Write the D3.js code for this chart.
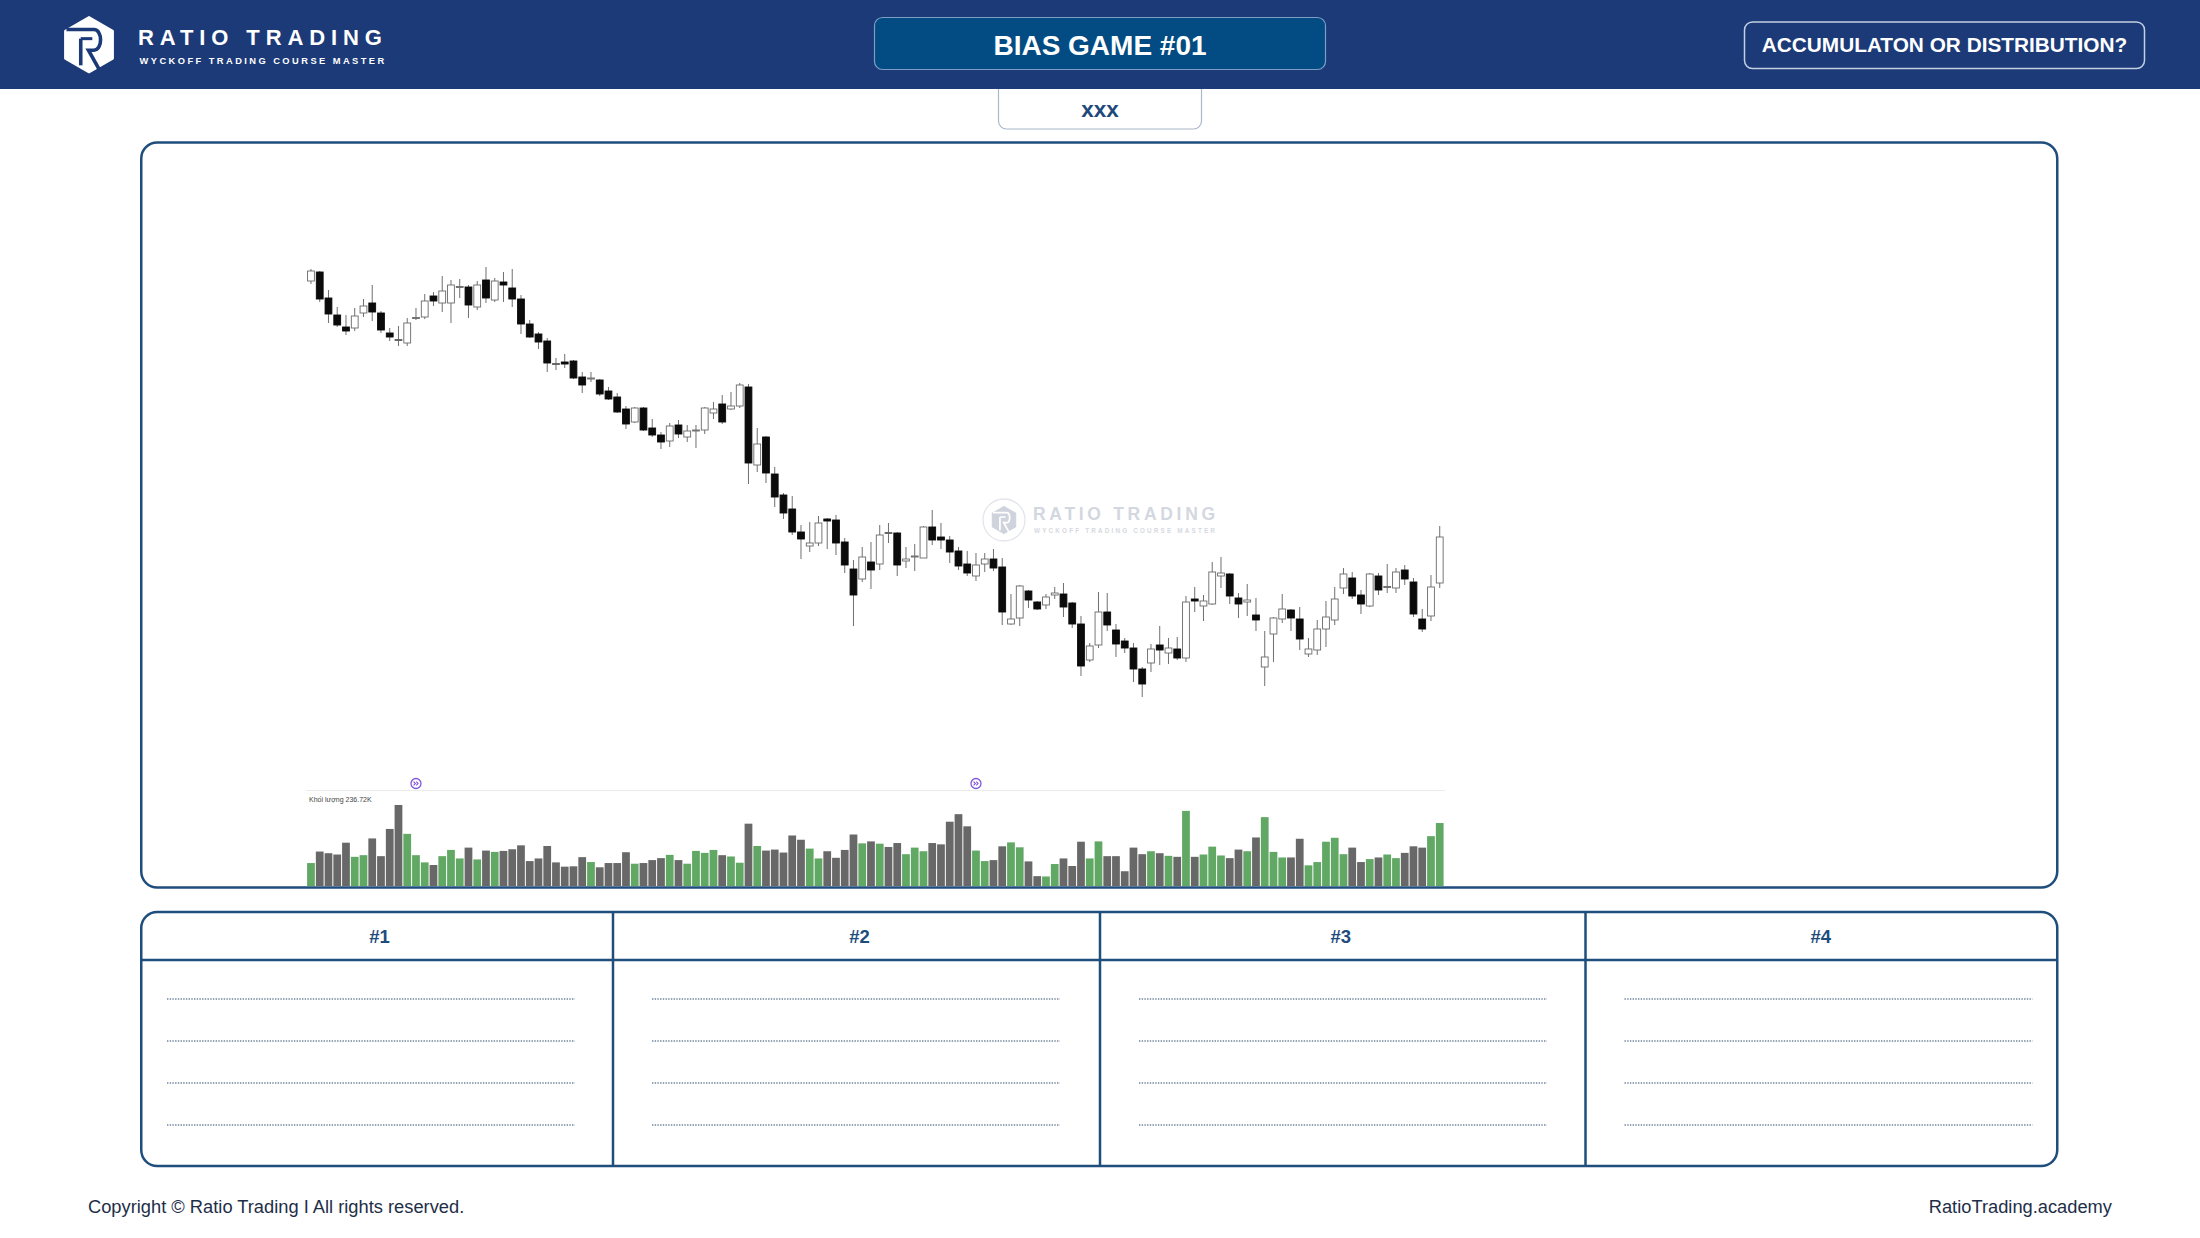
<!DOCTYPE html>
<html>
<head>
<meta charset="utf-8">
<script src="https://cdn.jsdelivr.net/npm/d3@7/dist/d3.min.js"></script>
<style>
body { margin: 0; background: #fff; }
svg text { font-family: Helvetica, Arial, "Liberation Sans", sans-serif; }
</style>
</head>
<body>
<div id="chart"></div>
<script>
/* PRICE DATA, one value per candle */
var openPrices = [51.9,52.8,50.2,48.5,47.3,47.2,48.7,49.7,48.7,46.7,
46.05,45.7,48.2,48.3,50.4,49.7,49.7,51.3,51.3,49.3,
52.0,50.0,51.8,51.2,50.1,47.6,46.6,45.9,43.65,43.8,
43.9,42.3,42.15,42.0,40.9,40.3,39.1,37.8,39.2,37.2,
36.5,35.9,37.5,36.3,36.95,37.0,38.7,39.6,39.1,39.4,
41.3,33.5,36.3,32.6,30.5,29.1,26.8,25.4,25.7,28.1,
28.0,25.8,23.1,22.1,23.8,23.6,26.75,26.7,23.9,24.3,
24.2,27.3,26.3,26.0,24.9,23.6,22.4,23.6,24.1,23.3,
17.6,18.2,20.9,19.8,19.5,20.5,20.6,19.7,17.6,14.0,
15.5,18.8,17.0,15.9,15.2,13.1,13.7,15.5,14.7,15.1,
14.2,20.1,19.4,19.6,22.4,22.6,20.2,19.8,18.5,13.3,
16.6,18.1,19.0,18.1,14.6,15.0,17.1,18.0,21.2,22.2,
20.5,19.4,22.4,21.35,21.2,23.0,21.8,18.1,18.4,21.7];

var highPrices = [53.1,52.9,51.0,49.3,48.5,49.2,50.1,51.5,48.9,47.2,
47.4,48.2,49.2,50.6,50.8,52.4,52.0,52.1,51.5,51.9,
53.3,52.2,52.8,53.1,50.5,48.0,46.8,46.2,44.2,44.6,
44.0,42.8,42.8,42.1,41.3,40.7,39.4,39.3,39.3,38.1,
36.8,37.7,38.0,37.5,37.5,39.3,39.8,40.5,40.8,41.7,
41.6,37.2,36.4,33.3,30.7,30.4,27.5,27.8,28.4,28.2,
28.5,26.2,24.0,25.3,25.8,27.5,27.7,26.8,25.3,25.6,
27.4,29.0,27.7,26.4,25.3,24.9,24.7,24.7,25.1,24.2,
20.6,21.5,21.0,19.9,20.6,21.3,21.7,19.8,18.4,15.7,
20.8,20.7,17.6,16.2,15.7,13.3,15.6,17.4,16.2,16.3,
20.4,21.3,20.5,23.8,24.3,22.7,20.7,21.6,20.2,16.9,
18.3,20.6,19.1,19.3,16.2,18.0,19.9,21.3,23.2,22.8,
21.0,22.7,22.7,23.6,23.2,23.5,22.2,19.1,22.5,27.4];

var lowPrices = [51.6,49.8,47.7,47.3,46.5,46.9,48.3,47.9,46.7,45.9,
45.4,45.4,48.0,48.1,49.4,48.8,47.7,50.2,48.2,49.0,
49.7,49.8,49.8,49.3,46.6,46.2,45.1,42.8,43.0,43.2,
42.1,40.7,41.8,40.4,40.0,38.7,37.1,37.7,36.9,36.3,
35.1,35.3,36.2,35.8,35.2,36.6,38.1,37.6,39.0,39.2,
31.6,32.8,31.7,29.3,28.1,26.5,24.1,24.8,25.4,25.1,
24.5,22.7,17.4,21.8,21.1,23.0,25.7,22.4,23.2,22.9,
24.2,25.5,25.1,23.7,23.0,22.4,21.9,22.8,22.9,17.5,
17.5,17.4,19.2,19.0,19.1,20.1,18.3,17.2,12.4,13.8,
15.2,16.9,14.3,14.7,11.8,10.3,12.8,13.5,13.6,14.0,
13.8,18.8,17.9,19.5,21.2,19.6,18.2,18.4,16.9,11.4,
13.8,17.7,16.9,15.0,14.3,14.5,15.3,17.5,20.6,20.1,
18.6,19.3,20.5,20.7,20.7,21.5,18.3,16.8,17.9,21.2];

var closePrices = [52.9,50.1,48.6,47.5,46.9,48.4,49.4,48.8,47.0,46.3,
46.0,47.7,48.25,49.9,49.9,50.9,51.5,51.35,49.5,51.5,
50.2,51.9,51.5,50.1,47.6,46.3,45.8,43.7,43.6,43.6,
42.2,41.5,42.2,40.6,40.1,38.8,37.6,39.2,37.0,36.5,
35.8,37.4,36.6,36.9,37.0,39.2,39.1,37.8,39.4,41.5,
33.7,35.6,32.7,30.3,28.7,26.8,26.1,25.7,27.7,27.9,
25.7,23.5,20.5,24.3,23.0,26.5,26.7,23.5,24.1,24.4,
27.3,26.0,26.0,24.8,23.4,22.7,23.5,24.1,23.2,18.8,
18.1,21.4,20.0,19.1,20.3,20.7,19.3,17.6,13.4,15.4,
18.8,17.5,15.6,15.2,13.1,11.6,15.1,15.0,15.2,14.2,
19.8,19.9,19.9,22.8,22.7,20.4,19.6,20.0,18.0,14.3,
18.2,19.1,18.2,16.1,15.1,17.1,18.3,20.1,22.6,20.4,
19.6,22.6,21.0,21.35,22.8,22.1,18.6,17.1,21.3,26.3];

/* VOLUME in thousands */
var volumes = [86.3,129.5,123.3,118.4,162.8,109.7,115.9,178.8,112.2,214.5,
304.6,196.0,115.9,88.8,78.9,112.2,135.6,103.6,144.3,99.9,
133.2,128.2,131.9,138.1,152.9,93.7,103.6,150.4,88.8,72.7,
74.0,108.5,90.0,70.3,86.3,86.3,127.0,83.8,86.3,97.4,
104.8,117.1,97.4,83.8,131.9,124.5,135.6,115.9,111.0,87.5,
234.3,150.4,133.2,136.9,125.8,189.9,173.9,140.6,103.6,130.7,
106.0,135.6,193.6,160.3,167.7,159.1,146.7,161.5,119.6,144.3,
130.7,161.5,156.6,241.7,270.0,224.4,133.2,93.7,97.4,149.2,
164.0,145.5,92.5,37.0,35.8,82.6,103.6,75.2,166.5,103.6,
167.7,112.2,112.2,55.5,144.3,119.6,130.7,123.3,113.4,109.7,
282.4,109.7,118.4,148.0,114.7,104.8,136.9,130.7,182.5,258.9,
128.2,107.3,107.3,177.6,77.7,90.0,166.5,181.3,119.6,144.3,
90.0,101.1,107.3,118.4,104.8,124.5,149.2,144.3,187.4,236.72];

var lastVolumeLabel = "236.72K";
var eventMarkers = [12, 76];          // candle index of the small event icons
var columnHeaders = ["#1", "#2", "#3", "#4"];
var answerRows = [1, 2, 3, 4];        // dotted answer lines per column

var NAVY = "#1b3a77";
var BORDER = "#1f4e7d";

/* SVG CANVAS */
var width = 2200, height = 1238;
var svg = d3.select("#chart")
    .append("svg")
    .attr("width", width)
    .attr("height", height);

svg.append("rect")
    .attr("width", width).attr("height", height)
    .attr("fill", "#fff");

/* LOGO: hexagon with an R cut into it */
function drawLogo(g, cx, cy, r, fill, gap) {
    var pts = d3.range(6).map(function(k) {
        var a = -Math.PI / 2 + k * Math.PI / 3;
        return [cx + r * Math.cos(a), cy + r * Math.sin(a)];
    });
    g.append("path")
        .attr("d", "M" + pts.join("L") + "Z")
        .attr("fill", fill)
        .attr("stroke", fill)
        .attr("stroke-width", r * 0.08)
        .attr("stroke-linejoin", "round");
    var p = function(x, y) { return (cx + x * r) + "," + (cy + y * r); };
    g.append("path")
        .attr("d", "M" + p(-0.82, -0.55) + "L" + p(0.18, -0.55) +
            "C" + p(0.5, -0.55) + " " + p(0.5, 0.2) + " " + p(0.18, 0.2) +
            "L" + p(-0.02, 0.2) + "L" + p(0.4, 0.95))
        .attr("fill", "none")
        .attr("stroke", gap)
        .attr("stroke-width", r * 0.13);
    g.append("path")
        .attr("d", "M" + p(-0.3, -0.22) + "L" + p(-0.3, 0.75))
        .attr("stroke", gap)
        .attr("stroke-width", r * 0.13);
    g.append("path")
        .attr("d", "M" + p(-0.3, -0.22) + "L" + p(0.12, -0.22))
        .attr("stroke", gap)
        .attr("stroke-width", r * 0.11);
}

/* SMALL TAB UNDER THE TITLE */
svg.append("rect")
    .attr("x", 998.5).attr("y", 60)
    .attr("width", 203).attr("height", 69)
    .attr("rx", 8)
    .attr("fill", "#fff")
    .attr("stroke", "#a9b7c9")
    .attr("stroke-width", 1.2);

svg.append("text")
    .attr("x", 1100).attr("y", 116.5)
    .attr("text-anchor", "middle")
    .attr("font-size", 22.5).attr("font-weight", "bold")
    .attr("fill", "#1d4a7b")
    .text("xxx");

/* HEADER BAR */
svg.append("rect")
    .attr("x", 0).attr("y", 0)
    .attr("width", width).attr("height", 89)
    .attr("fill", NAVY);

var logo = svg.append("g");
drawLogo(logo, 89, 44.7, 27.5, "#fff", NAVY);

svg.append("text")
    .attr("x", 138).attr("y", 45)
    .attr("font-size", 22).attr("font-weight", "bold")
    .style("letter-spacing", "5.9px")
    .attr("fill", "#fff")
    .text("RATIO TRADING");

svg.append("text")
    .attr("x", 139.5).attr("y", 64)
    .attr("font-size", 9.3).attr("font-weight", "bold")
    .style("letter-spacing", "2.45px")
    .attr("fill", "#fff")
    .text("WYCKOFF TRADING COURSE MASTER");

svg.append("rect")
    .attr("x", 874.5).attr("y", 17.5)
    .attr("width", 451).attr("height", 52)
    .attr("rx", 8)
    .attr("fill", "#034b83")
    .attr("stroke", "#7d9dc7")
    .attr("stroke-width", 1.2);

svg.append("text")
    .attr("x", 1100).attr("y", 55)
    .attr("text-anchor", "middle")
    .attr("font-size", 28).attr("font-weight", "bold")
    .attr("fill", "#fff")
    .text("BIAS GAME #01");

svg.append("rect")
    .attr("x", 1744.5).attr("y", 22)
    .attr("width", 400).attr("height", 46.5)
    .attr("rx", 8)
    .attr("fill", "none")
    .attr("stroke", "#c3cfe2")
    .attr("stroke-width", 1.5);

svg.append("text")
    .attr("x", 1944.5).attr("y", 52)
    .attr("text-anchor", "middle")
    .attr("font-size", 20.8).attr("font-weight", "bold")
    .attr("fill", "#fff")
    .text("ACCUMULATON OR DISTRIBUTION?");

/* CHART FRAME */
svg.append("rect")
    .attr("x", 141.25).attr("y", 142.5)
    .attr("width", 1916).attr("height", 745)
    .attr("rx", 16)
    .attr("fill", "#fff")
    .attr("stroke", BORDER)
    .attr("stroke-width", 2.5);

/* WATERMARK */
var wm = svg.append("g");
wm.append("circle")
    .attr("cx", 1004).attr("cy", 520).attr("r", 21)
    .attr("fill", "none")
    .attr("stroke", "#e3e5eb")
    .attr("stroke-width", 1.3);
drawLogo(wm, 1004, 520, 13.5, "#cfd3dc", "#fff");
wm.append("text")
    .attr("x", 1033).attr("y", 520)
    .attr("font-size", 17.5).attr("font-weight", "bold")
    .style("letter-spacing", "3.7px")
    .attr("fill", "#d3d7e0")
    .text("RATIO TRADING");
wm.append("text")
    .attr("x", 1034).attr("y", 533)
    .attr("font-size", 6.3).attr("font-weight", "bold")
    .style("letter-spacing", "2.2px")
    .attr("fill", "#d6d9e1")
    .text("WYCKOFF TRADING COURSE MASTER");

/* SCALES */
var idx = d3.range(openPrices.length);

var x = d3.scaleBand()
    .domain(idx)
    .range([306.6, 1444.1]);

var y = d3.scaleLinear()
    .domain([10, 54])
    .range([700, 260]);

var v = d3.scaleLinear()
    .domain([0, 300])
    .range([886, 806.2]);

/* CANDLES */
var bodyW = x.bandwidth() * 0.78;

var candles = svg.append("g").selectAll("g")
    .data(idx)
    .enter()
    .append("g");

candles.append("line")
    .attr("x1", function(i) { return x(i) + x.bandwidth() / 2; })
    .attr("x2", function(i) { return x(i) + x.bandwidth() / 2; })
    .attr("y1", function(i) { return y(highPrices[i]); })
    .attr("y2", function(i) { return y(lowPrices[i]); })
    .attr("stroke", "#707070")
    .attr("stroke-width", 1);

candles.append("rect")
    .attr("x", function(i) { return x(i) + (x.bandwidth() - bodyW) / 2; })
    .attr("y", function(i) { return y(Math.max(openPrices[i], closePrices[i])); })
    .attr("width", bodyW)
    .attr("height", function(i) {
        return Math.max(1, Math.abs(y(openPrices[i]) - y(closePrices[i])));
    })
    .attr("fill", function(i) { return closePrices[i] >= openPrices[i] ? "#fff" : "#0b0b0b"; })
    .attr("stroke", function(i) {
        var flat = Math.abs(y(openPrices[i]) - y(closePrices[i])) < 1.5;
        if (flat) return "#666";
        return closePrices[i] >= openPrices[i] ? "#6a6a6a" : "#0b0b0b";
    })
    .attr("stroke-width", 0.9);

/* VOLUME PANE */
svg.append("line")
    .attr("x1", 306).attr("x2", 1445)
    .attr("y1", 790.5).attr("y2", 790.5)
    .attr("stroke", "#ebebeb");

svg.append("text")
    .attr("x", 309).attr("y", 801.5)
    .attr("font-size", 7)
    .attr("fill", "#444")
    .text("Khối lượng  " + lastVolumeLabel);

svg.append("g").selectAll("rect")
    .data(idx)
    .enter()
    .append("rect")
        .attr("x", function(i) { return x(i) + 0.5; })
        .attr("y", function(i) { return v(volumes[i]); })
        .attr("width", x.bandwidth() - 1)
        .attr("height", function(i) { return v(0) - v(volumes[i]); })
        .attr("fill", function(i) { return closePrices[i] >= openPrices[i] ? "#62a865" : "#686868"; });

var ev = svg.append("g").selectAll("g")
    .data(eventMarkers)
    .enter()
    .append("g")
        .attr("transform", function(i) { return "translate(" + (x(i) + x.bandwidth() / 2) + ",783.5)"; });
ev.append("circle")
    .attr("r", 5)
    .attr("fill", "#fff")
    .attr("stroke", "#8058e0")
    .attr("stroke-width", 1.3);
ev.append("path")
    .attr("d", "M-2.4,-1.8 L-0.6,0 L-2.4,1.8 M0.3,-1.8 L2.1,0 L0.3,1.8")
    .attr("fill", "none")
    .attr("stroke", "#8058e0")
    .attr("stroke-width", 1.1);

/* ANSWER TABLE */
var colEdges = [140, 613, 1100, 1585.5, 2058];
var tTop = 912, tHead = 960, tBottom = 1166;

svg.append("rect")
    .attr("x", 141.25).attr("y", tTop)
    .attr("width", 1916).attr("height", tBottom - tTop)
    .attr("rx", 16)
    .attr("fill", "#fff")
    .attr("stroke", BORDER)
    .attr("stroke-width", 2.5);

svg.append("line")
    .attr("x1", 141).attr("x2", 2057)
    .attr("y1", tHead).attr("y2", tHead)
    .attr("stroke", BORDER)
    .attr("stroke-width", 2.5);

svg.selectAll(".coldiv")
    .data(colEdges.slice(1, 4))
    .enter()
    .append("line")
        .attr("class", "coldiv")
        .attr("x1", function(d) { return d; })
        .attr("x2", function(d) { return d; })
        .attr("y1", tTop).attr("y2", tBottom)
        .attr("stroke", BORDER)
        .attr("stroke-width", 2.5);

svg.selectAll(".colhead")
    .data(columnHeaders)
    .enter()
    .append("text")
        .attr("class", "colhead")
        .attr("x", function(d, k) { return (colEdges[k] + colEdges[k + 1]) / 2 + (k === 0 ? 3 : k === 1 ? 3 : k === 2 ? -2 : -1); })
        .attr("y", 942.5)
        .attr("text-anchor", "middle")
        .attr("font-size", 18.5).attr("font-weight", "bold")
        .attr("fill", "#1d4c7d")
        .text(function(d) { return d; });

columnHeaders.forEach(function(h, k) {
    var x0 = colEdges[k] + (k === 0 ? 27 : 39);
    svg.append("g").selectAll("line")
        .data(answerRows)
        .enter()
        .append("line")
            .attr("x1", x0).attr("x2", x0 + 408)
            .attr("y1", function(r) { return 957 + 42 * r; })
            .attr("y2", function(r) { return 957 + 42 * r; })
            .attr("stroke", "#2b4668")
            .attr("stroke-width", 1.1)
            .attr("stroke-dasharray", "1.4 1.3");
});

/* FOOTER */
svg.append("text")
    .attr("x", 88).attr("y", 1213)
    .attr("font-size", 18.3)
    .attr("fill", "#1e2e48")
    .text("Copyright \u00a9 Ratio Trading I All rights reserved.");

svg.append("text")
    .attr("x", 2112).attr("y", 1213)
    .attr("text-anchor", "end")
    .attr("font-size", 18.3)
    .attr("fill", "#1e2e48")
    .text("RatioTrading.academy");
</script>
</body>
</html>
